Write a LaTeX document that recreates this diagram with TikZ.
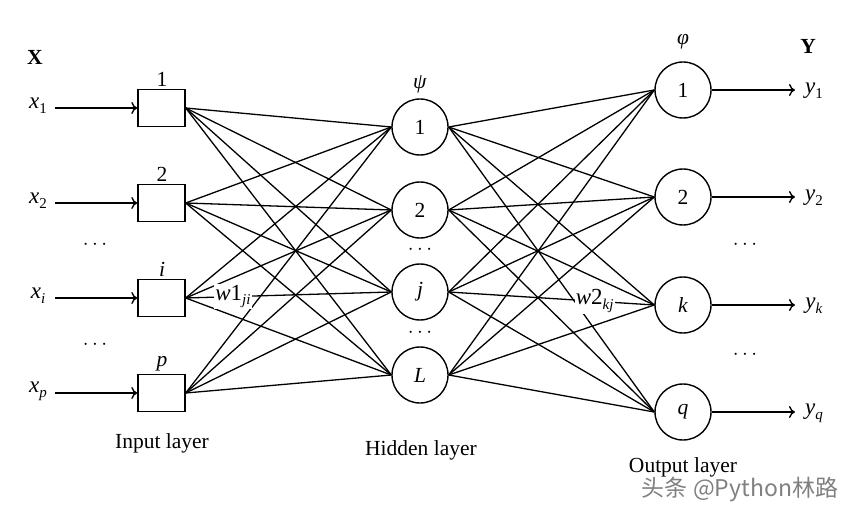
\documentclass[tikz,border=0pt]{standalone}
\usepackage{fontspec}
\setmainfont{Liberation Serif}
\newfontfamily\cjk{Noto Sans CJK SC}
\usetikzlibrary{arrows.meta}
\newcommand\vsub[2]{#1\raisebox{-0.45ex}{\fontsize{15}{15}\selectfont #2}}
\begin{document}
\begin{tikzpicture}[x=1pt,y=-1pt,
  font=\fontsize{21.5}{23}\selectfont,
  line width=1.4pt,
  inbox/.style={draw, minimum width=47pt, minimum height=37pt, inner sep=0pt},
  neuron/.style={draw, circle, minimum size=56pt, inner sep=0pt},
  conn/.style={line width=1.3pt},
  feed/.style={-{To[length=6pt,width=12pt]}},
  lbl/.style={inner sep=0pt},
  big/.style={font=\fontsize{23}{25}\selectfont},
  wlbl/.style={fill=white, inner sep=1pt, font=\fontsize{23}{25}\selectfont}]
\useasboundingbox (0,0) rectangle (850,510);

% headers
\node[lbl] (X) at (35,57) {\textbf{X}};
\node[lbl] (Y) at (808,46) {\textbf{Y}};
\node[lbl] (psi) at (420,84) {\textit{ψ}};
\node[lbl] (phi) at (683,42) {\textit{φ}};

% input layer
\foreach \n/\y/\t/\s in {1/108/1/1, 2/203/2/2, i/298/\textit{i}/\textit{i}, p/393/\textit{p}/\textit{p}}{
  \node[inbox] (in\n) at (161.5,\y) {};
  \node[lbl] (inl\n) at (162,\y-29) {\t};
  \node[lbl, big] (x\n) at (38,\y-2) {\vsub{\textit{x}}{\s}};
  \coordinate (xs\n) at (55,\y);
  \draw[feed] (xs\n) -- (in\n.west);
}
\node[lbl] (d1) at (95,245) {$\cdots$};
\node[lbl] (d2) at (95,345) {$\cdots$};
\node[lbl] (inlayer) at (162,443) {Input layer};

% hidden layer
\foreach \n/\y/\t in {1/127/1, 2/210/2, j/292/\textit{j}, L/375/\textit{L}}{
  \node[neuron] (h\n) at (420,\y) {\t};
}
\node[lbl] (d3) at (420,250) {$\cdots$};
\node[lbl] (d4) at (420,333) {$\cdots$};
\node[lbl] (hidlayer) at (421,450) {Hidden layer};

% output layer
\foreach \n/\y/\t in {1/90/1, 2/197/2, k/305/\textit{k}, q/412/\textit{q}}{
  \node[neuron] (o\n) at (683,\y) {\t};
  \coordinate (ye\n) at (795,\y);
  \draw[feed] (o\n.east) -- (ye\n);
  \node[lbl, big] (y\n) at (814,\y+1) {\vsub{\textit{y}}{\t}};
}
\node[lbl] (d5) at (745,245) {$\cdots$};
\node[lbl] (d6) at (745,355) {$\cdots$};
\node[lbl] (outlayer) at (683,467) {Output layer};

% connections
\foreach \a in {1,2,i,p}{
  \foreach \b in {1,2,j,L}{
    \draw[conn] (in\a.east) -- (h\b.west);
  }
}
\foreach \a in {1,2,j,L}{
  \foreach \b in {1,2,k,q}{
    \draw[conn] (h\a.east) -- (o\b.west);
  }
}

% weight labels
\path (ini.east) -- (hj.west) node[wlbl, pos=0.23] (w1) {\vsub{\textit{w}1}{\textit{ji}}};
\path (hj.east) -- (ok.west) node[wlbl, pos=0.71] (w2) {\vsub{\textit{w}2}{\textit{kj}}};

% watermark
\node[lbl, text=black!50, font=\fontsize{23}{25}\selectfont] (wm) at (740,490) {\cjk 头条 @Python林路};
\end{tikzpicture}
\end{document}
